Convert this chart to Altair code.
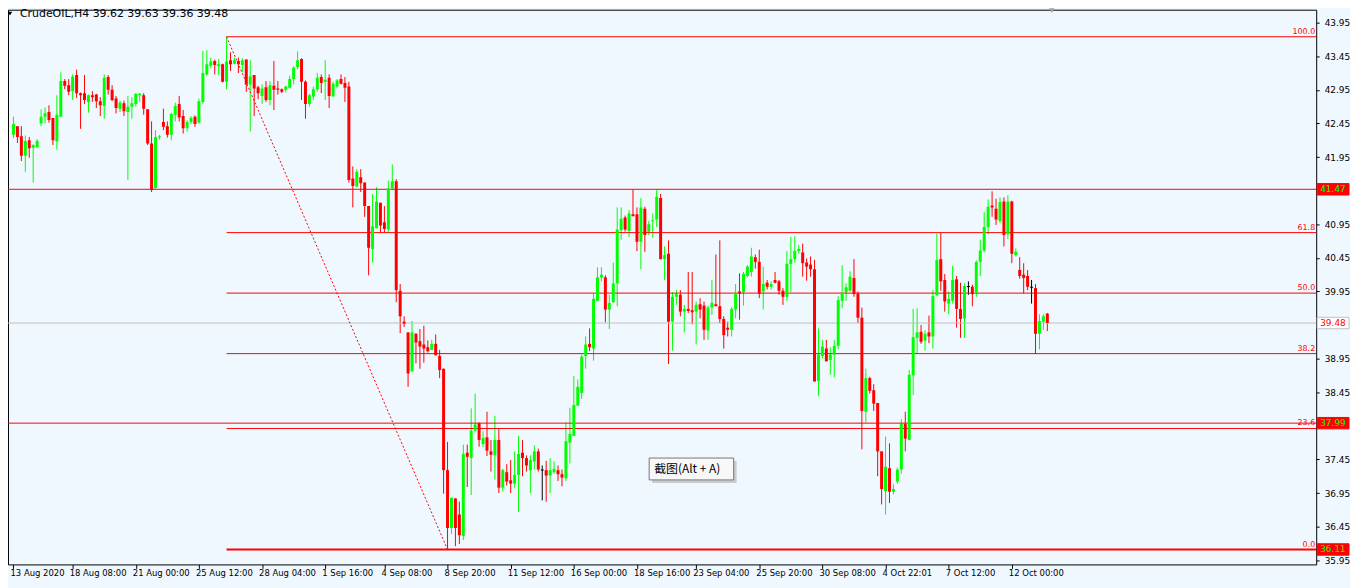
import altair as alt
import pandas as pd

# ---- OHLC values (263 bars) ----
opens = [42.28,42.41,42.26,41.97,42.20,42.09,42.10,42.45,42.55,42.62,42.53,42.18,42.55,43.08,43.02,42.93,43.17,42.90,42.90,42.77,
         42.87,42.88,42.78,42.71,43.14,42.95,42.82,42.67,42.75,42.62,42.70,42.74,42.87,42.87,42.66,42.15,41.49,42.25,42.47,42.41,
         42.28,42.58,42.74,42.56,42.38,42.47,42.55,42.46,42.77,43.18,43.31,43.38,43.30,43.33,43.07,43.39,43.34,43.38,43.32,43.40,
         43.03,43.17,42.99,42.86,42.99,42.80,43.01,42.97,42.96,42.95,42.98,43.11,43.29,43.41,43.07,42.74,42.85,42.96,43.14,43.07,
         43.13,42.85,43.00,43.11,43.05,43.00,41.63,41.51,41.65,41.57,41.22,40.58,40.89,41.27,40.98,40.87,41.48,41.59,39.96,39.50,
         39.34,38.76,39.32,39.21,39.16,39.12,39.08,39.17,38.99,38.80,37.29,36.43,36.87,36.63,36.31,37.55,37.47,37.88,37.99,37.68,
         37.78,37.57,37.51,37.74,37.03,37.26,37.14,37.09,37.22,37.55,37.47,37.29,37.42,37.57,37.30,37.29,37.21,37.26,37.29,37.23,
         37.17,37.70,37.80,38.25,38.44,38.99,39.17,39.10,39.81,40.16,40.16,39.68,39.79,40.07,40.86,41.05,40.85,41.10,41.10,40.69,
         41.18,40.84,41.00,41.02,41.34,40.43,40.51,39.50,39.87,39.90,39.65,39.69,39.67,39.65,39.76,39.74,39.37,39.71,39.76,39.73,
         39.54,39.41,39.38,39.68,39.95,39.94,40.18,40.24,40.46,40.39,39.95,40.08,40.02,40.12,40.10,39.96,39.87,40.36,40.43,40.55,
         40.53,40.38,40.35,40.28,38.62,38.99,39.10,38.93,39.01,39.14,39.81,39.94,39.96,40.15,39.92,39.56,38.16,38.66,38.48,38.29,
         37.57,36.98,37.32,36.97,37.12,37.30,37.98,37.74,38.70,39.26,39.35,39.22,39.34,39.28,39.89,40.43,40.12,39.77,39.81,40.13,
         39.69,39.55,40.03,40.02,39.92,40.39,40.56,40.91,41.23,41.18,41.00,41.29,40.80,41.29,40.49,40.27,40.20,40.18,40.02,40.00,
         39.32,39.50,39.62]
highs = [42.55,42.41,42.41,42.27,42.25,42.14,42.22,42.66,42.69,42.72,42.53,42.87,43.21,43.11,43.11,43.18,43.25,42.91,43.17,42.88,
         42.93,42.89,42.84,43.18,43.17,43.02,42.86,42.79,42.79,42.86,42.84,42.90,42.90,42.90,42.66,42.48,42.35,42.28,42.67,42.48,
         42.61,42.76,42.86,42.65,42.50,42.56,42.57,42.82,43.53,43.54,43.43,43.40,43.41,43.34,43.74,43.51,43.43,43.43,43.42,43.40,
         43.39,43.17,43.01,43.03,43.08,43.08,43.38,43.08,42.97,43.01,43.16,43.30,43.52,43.42,43.09,42.89,43.00,43.20,43.18,43.39,
         43.18,43.07,43.11,43.18,43.14,43.07,41.81,41.77,41.77,41.57,41.22,41.40,41.50,41.27,41.22,41.60,41.84,41.62,40.06,39.58,
         39.34,39.51,39.33,39.39,39.44,39.22,39.23,39.31,39.08,38.80,37.71,36.88,36.87,36.82,37.67,37.67,38.21,38.43,38.00,37.87,
         38.16,37.74,38.10,37.90,37.31,37.38,37.44,37.57,37.80,37.74,37.51,37.51,37.66,37.61,37.36,37.43,37.47,37.42,37.36,37.30,
         38.00,38.22,38.69,38.64,39.01,39.28,39.40,39.92,40.31,40.31,40.19,39.90,40.38,41.20,41.20,41.08,41.16,41.46,41.20,41.34,
         41.21,41.00,41.11,41.46,41.40,40.62,40.71,39.94,39.97,39.97,39.75,40.24,40.24,39.80,39.85,39.80,39.74,40.12,40.50,40.71,
         39.58,39.50,39.72,40.06,40.22,40.24,40.34,40.60,40.50,40.57,40.32,40.12,40.10,40.24,40.12,40.00,40.55,40.76,40.77,40.64,
         40.66,40.44,40.47,40.42,39.40,39.23,39.23,39.12,39.23,39.88,40.34,40.07,40.25,40.43,39.95,39.71,38.80,38.68,38.57,38.29,
         37.57,37.79,37.69,37.08,37.33,38.05,38.16,38.78,39.69,39.70,39.45,39.37,39.59,39.97,40.81,40.82,40.21,39.95,40.33,40.18,
         40.08,40.07,40.10,40.05,40.41,40.72,41.13,41.32,41.44,41.33,41.35,41.35,41.38,41.30,40.59,40.46,40.37,40.27,40.12,40.06,
         39.61,39.61,39.63]
lows = [42.23,42.16,41.89,41.73,41.94,41.57,42.09,42.41,42.45,42.46,42.13,42.06,42.55,42.96,42.87,42.80,42.83,42.37,42.74,42.61,
        42.77,42.68,42.56,42.52,42.88,42.78,42.60,42.62,42.56,41.61,42.52,42.70,42.77,42.58,42.13,41.43,41.48,42.21,42.35,42.24,
        42.20,42.48,42.48,42.30,42.33,42.44,42.40,42.45,42.74,43.16,43.27,43.18,43.17,43.06,42.96,43.23,43.33,43.20,43.21,42.92,
        42.33,42.56,42.81,42.74,42.77,42.72,42.65,42.88,42.90,42.91,42.97,43.03,43.26,42.80,42.52,42.70,42.80,42.92,42.90,42.80,
        42.68,42.85,42.98,43.03,42.77,41.57,41.20,41.50,41.43,41.06,40.19,40.38,40.89,40.82,40.82,40.82,41.48,39.79,39.33,39.42,
        38.53,38.76,38.88,38.80,38.89,39.04,39.08,39.00,38.66,36.94,36.11,36.34,36.16,36.19,36.25,37.04,36.92,37.85,37.64,37.63,
        37.50,37.27,37.15,36.95,36.97,37.06,36.95,37.03,36.67,37.20,37.27,36.95,37.30,37.27,36.84,36.82,36.95,37.24,37.13,37.05,
        37.13,37.39,37.80,38.25,38.35,38.80,39.06,38.92,39.81,40.10,39.49,39.39,39.78,39.73,40.72,40.84,40.76,41.07,40.55,40.28,
        40.54,40.79,40.75,40.91,40.43,40.12,38.87,39.07,39.75,39.58,39.34,39.63,39.46,39.16,39.55,39.23,39.23,39.60,39.73,39.48,
        39.10,39.28,39.28,39.55,39.53,39.74,40.16,40.17,40.29,39.85,39.68,39.98,39.98,40.07,39.90,39.75,39.81,39.94,40.38,40.51,
        40.17,40.11,40.17,38.61,38.39,38.95,38.91,38.71,38.67,39.09,39.70,39.81,39.95,39.87,39.48,37.60,38.00,38.43,38.17,37.20,
        36.78,36.63,36.80,36.93,37.09,37.24,37.57,37.74,38.41,39.03,39.17,39.07,39.18,39.10,39.89,39.96,39.65,39.61,39.77,39.41,
        39.26,39.26,39.90,39.73,39.87,40.18,40.53,40.80,41.06,40.94,40.97,40.62,40.73,40.37,40.47,40.14,39.92,39.97,39.77,39.02,
        39.09,39.38,39.36]
closes = [42.44,42.25,41.97,42.19,42.08,42.13,42.19,42.55,42.60,42.50,42.20,42.58,43.08,43.01,42.92,43.15,42.90,42.87,42.80,42.87,
          42.84,42.78,42.72,43.13,42.95,42.80,42.68,42.76,42.63,42.70,42.75,42.89,42.89,42.67,42.15,41.46,42.25,42.26,42.40,42.28,
          42.59,42.71,42.54,42.38,42.47,42.53,42.44,42.78,43.20,43.33,43.37,43.32,43.33,43.07,43.37,43.33,43.39,43.33,43.39,43.03,
          43.15,42.97,42.90,42.97,42.80,43.02,42.95,42.95,42.92,43.00,43.11,43.28,43.39,43.07,42.74,42.87,42.96,43.13,43.05,43.10,
          42.86,43.04,43.09,43.04,42.98,41.61,41.52,41.73,41.56,41.22,40.60,40.92,41.29,40.93,40.88,41.48,41.59,39.97,39.58,39.47,
          38.73,39.34,39.19,39.13,39.10,39.06,39.17,39.00,38.78,37.29,36.43,36.88,36.43,36.32,37.53,37.49,37.88,37.97,37.74,37.77,
          37.58,37.52,37.74,37.03,37.29,37.12,37.09,37.22,37.53,37.47,37.36,37.44,37.57,37.30,37.30,37.21,37.29,37.31,37.23,37.18,
          37.72,37.83,38.26,38.53,38.98,39.16,39.12,39.84,40.16,40.20,39.68,39.78,40.07,40.87,41.03,40.87,41.11,41.07,40.69,41.20,
          40.79,40.95,41.01,41.36,40.43,40.49,39.50,39.87,39.91,39.65,39.69,39.66,39.64,39.75,39.68,39.38,39.71,39.78,39.73,39.54,
          39.30,39.38,39.69,39.93,39.92,40.21,40.32,40.47,40.39,39.92,40.06,40.02,40.06,40.08,39.96,39.87,40.36,40.43,40.55,40.58,
          40.37,40.32,40.28,38.61,39.01,39.13,38.91,39.01,39.14,39.82,39.93,40.01,40.17,39.91,39.56,38.17,38.66,38.47,38.28,37.57,
          37.01,37.34,36.97,37.01,37.30,37.98,37.76,38.71,39.27,39.34,39.20,39.32,39.28,39.88,40.42,40.10,39.80,39.84,40.12,39.69,
          39.54,40.03,40.03,39.91,40.39,40.56,40.91,41.21,41.20,41.02,41.28,40.79,41.29,40.51,40.54,40.18,40.15,40.02,40.02,39.32,
          39.51,39.58,39.48]

# ---- time-axis labels (bar index where each label sits) ----
date_idx = [0, 15, 31, 47, 63, 79, 94, 110, 126, 142, 158, 173, 189, 205, 221, 237, 253]
date_text = ["13 Aug 2020", "18 Aug 08:00", "21 Aug 00:00", "25 Aug 12:00", "28 Aug 04:00", "1 Sep 16:00",
             "4 Sep 08:00", "8 Sep 20:00", "11 Sep 12:00", "16 Sep 00:00", "18 Sep 16:00", "23 Sep 04:00",
             "25 Sep 20:00", "30 Sep 08:00", "4 Oct 22:01", "7 Oct 12:00", "12 Oct 00:00"]

# ---- price axis ----
price_ticks = [43.95, 43.45, 42.95, 42.45, 41.95, 40.95, 40.45, 39.95, 38.95, 38.45, 37.45, 36.95, 36.45, 35.95]

# ---- horizontal lines / price tags ----
hline_prices = [41.47, 37.99]
tag_prices = [41.47, 39.48, 37.99, 36.11]
tag_kind = ["red", "grey", "red", "red"]

# ---- Fibonacci retracement (swing high bar 54 -> swing low bar 110) ----
fib_hi_bar, fib_lo_bar = 54, 110
fib_names = ["100.0", "61.8", "50.0", "38.2", "23.6", "0.0"]
fib_ratios = [1.0, 0.618, 0.5, 0.382, 0.236, 0.0]

FONT = "DejaVu Sans"
W, H = 1316, 558
BG = "#F0F8FF"

n = len(opens)
df = pd.DataFrame({"i": list(range(n)), "o": opens, "h": highs, "l": lows, "c": closes})
df["d"] = ["up" if c > o else ("down" if c < o else "doji") for o, c in zip(opens, closes)]

fhi, flo = highs[fib_hi_bar], lows[fib_lo_bar]
fib = pd.DataFrame({"name": fib_names, "p": [flo + r * (fhi - flo) for r in fib_ratios], "start": fib_hi_bar})
fib["w"] = [2 if r == 0 else 1 for r in fib_ratios]
diag = pd.DataFrame({"i": [fib_hi_bar, fib_lo_bar], "p": [fhi, flo]})
hl = pd.DataFrame({"p": hline_prices})
cur = pd.DataFrame({"p": [closes[-1]]})
tags = pd.DataFrame({"p": tag_prices, "k": tag_kind, "t": [f"{v:.2f}" for v in tag_prices]})
dates = pd.DataFrame({"i": date_idx, "t": date_text})

xs = alt.Scale(domain=[-0.125, -0.125 + W / 4], nice=False, zero=False)
ys = alt.Scale(domain=[43.95 - (566 - 21) / 67.6, 43.95 + (21 - 8) / 67.6], nice=False, zero=False)
cscale = alt.Scale(domain=["up", "down", "doji"], range=["#00FF00", "#FF0000", "#000000"])

xaxis = alt.Axis(values=date_idx, labels=False, tickColor="#000000", tickSize=4,
                 domain=False, grid=False, title=None)
yaxis = alt.Axis(orient="right", values=price_ticks, format=".2f", labelFont=FONT, labelFontSize=9,
                 labelColor="#000000", tickColor="#000000", tickSize=3, labelPadding=5, domain=False,
                 grid=False, title=None, labelOverlap=False, labelFlush=False)


def X(field):
    return alt.X(field, scale=xs, axis=xaxis)


def Y(field):
    return alt.Y(field, scale=ys, axis=yaxis)


wicks = alt.Chart(df).mark_rule(strokeWidth=1, clip=True).encode(
    x=X("i:Q"), y=Y("l:Q"), y2="h:Q",
    color=alt.Color("d:N", scale=cscale, legend=None),
)
bodies = alt.Chart(df).transform_calculate(
    top="max(datum.o, datum.c)",
    bot="abs(datum.o - datum.c) < 0.0148 ? max(datum.o, datum.c) - 0.0148 : min(datum.o, datum.c)",
).mark_bar(size=3, clip=True).encode(
    x=X("i:Q"), y=Y("top:Q"), y2="bot:Q",
    color=alt.Color("d:N", scale=cscale, legend=None),
)

hlines = alt.Chart(hl).mark_rule(color="#FF0000", strokeWidth=1).encode(y=Y("p:Q"))
curline = alt.Chart(cur).mark_rule(color="#C0C0C0", strokeWidth=1).encode(y=Y("p:Q"))
fiblines = alt.Chart(fib).mark_rule(color="#FF0000").encode(
    x=X("start:Q"), x2=alt.value(W),
    y=Y("p:Q"),
    strokeWidth=alt.StrokeWidth("w:Q", scale=None, legend=None),
)
fibtext = alt.Chart(fib).mark_text(color="#FF0000", font=FONT, fontSize=8, align="right", baseline="bottom", dy=-1).encode(
    x=alt.value(W - 1), y=Y("p:Q"), text="name:N")
diagline = alt.Chart(diag).mark_line(color="#FF0000", strokeWidth=1, strokeDash=[2, 2]).encode(
    x=X("i:Q"), y=Y("p:Q"))

tagrect = alt.Chart(tags).transform_calculate(
    t1="datum.p + 0.085", t2="datum.p - 0.085"
).mark_rect(strokeWidth=1).encode(
    x=alt.value(W + 1), x2=alt.value(W + 33),
    y=Y("t1:Q"), y2="t2:Q",
    fill=alt.Fill("k:N", scale=alt.Scale(domain=["red", "grey"], range=["#FF0000", "#FFFFFF"]), legend=None),
    stroke=alt.Stroke("k:N", scale=alt.Scale(domain=["red", "grey"], range=["#FF0000", "#C0C0C0"]), legend=None),
)
tagtext = alt.Chart(tags).mark_text(font=FONT, fontSize=9, align="left", baseline="middle").encode(
    x=alt.value(W + 4), y=Y("p:Q"), text="t:N",
    color=alt.Color("k:N", scale=alt.Scale(domain=["red", "grey"], range=["#FFFFFF", "#000000"]), legend=None),
)

datetext = alt.Chart(dates).mark_text(font=FONT, fontSize=8.5, align="left", baseline="middle", color="#000000",
                                      dx=-3).encode(x=X("i:Q"), y=alt.value(H + 9), text="t:N")

head = pd.DataFrame({"t": [f"CrudeOIL,H4  {opens[-1]:.2f} {highs[-1]:.2f} {lows[-1]:.2f} {closes[-1]:.2f}"]})
headtri = alt.Chart(head).mark_point(shape="triangle-down", filled=True, size=20, color="#000000", opacity=1).encode(
    x=alt.value(2), y=alt.value(4))
headtext = alt.Chart(head).mark_text(font=FONT, fontSize=11, align="left", baseline="middle", color="#000000").encode(
    x=alt.value(12), y=alt.value(4), text="t:N")

tip = pd.DataFrame({"t": ["截图(Alt + A)"]})
tipshadow = alt.Chart(tip).mark_rect(fill="#B0B0B0", opacity=0.6).encode(
    x=alt.value(648), x2=alt.value(733), y=alt.value(454), y2=alt.value(476))
tipbox = alt.Chart(tip).mark_rect(fill="#F8F8F8", stroke="#767676", strokeWidth=1).encode(
    x=alt.value(645), x2=alt.value(730), y=alt.value(451), y2=alt.value(473))
tiptext = alt.Chart(tip).mark_text(font="Noto Sans CJK SC", fontSize=12, align="left", baseline="middle", color="#000000").encode(
    x=alt.value(650), y=alt.value(462), text="t:N")

shiftmark = alt.Chart(tip).mark_point(shape="triangle-down", filled=True, size=30, color="#A0A0A0", opacity=1).encode(
    x=alt.value(1050), y=alt.value(1))

chart = alt.layer(
    wicks, hlines, curline, fiblines, diagline, bodies, fibtext, tagrect, tagtext, datetext,
    headtri, headtext, tipshadow, tipbox, tiptext, shiftmark
).properties(
    width=W, height=H,
    autosize=alt.AutoSizeParams(type="none"),
    padding={"left": 0, "top": 0, "right": 34, "bottom": 22},
    background=BG,
).configure_view(fill=BG, stroke="#000000", strokeWidth=1)

chart.save("out.html", embed_options={"renderer": "svg", "actions": False})
